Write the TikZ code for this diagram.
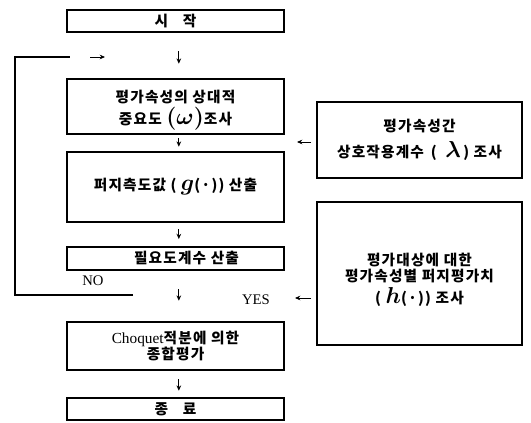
\documentclass[tikz,border=0pt]{standalone}
\usepackage{fontspec}
\usepackage{bm}
\setmainfont{Liberation Serif}
\newfontfamily\kr[LetterSpace=8]{Noto Sans CJK KR}
\usetikzlibrary{arrows.meta}
\begin{document}
\begin{tikzpicture}[x=0.75pt,y=-0.75pt,
  box/.style n args={2}{draw, line width=1.9pt, minimum width=#1*0.75pt, minimum height=#2*0.75pt, inner sep=0pt, align=center, font=\kr\bfseries\fontsize{11}{12}\selectfont},
  arr/.style={line width=0.7pt, -{Stealth[length=4pt,width=3.5pt]}},
  loop/.style={line width=0.8pt},
  lbl/.style={font=\fontsize{11}{12}\selectfont, inner sep=0pt}]
\useasboundingbox (0,0) rectangle (531,423);
\node[box={217}{55}] (b2) at (175.5,106.5) {\rule{0pt}{15pt}평가속성의 상대적\\[2pt]중요도 {\fontsize{17}{17}\selectfont$\bm{(\omega)}$}조사};
\node[box={217}{22}] (start) at (175.5,21) {시\quad 작};
\node[box={217}{70}] (b3) at (175.5,187) {퍼지측도값 ( {\fontsize{18}{18}\selectfont$\bm g$}(·)) 산출};
\node[box={217}{23}] (b4) at (175.5,258.5) {\hspace{1.5em}필요도계수 산출};
\node[box={217}{48}] (b5) at (175.5,346) {{\rmfamily\mdseries\fontsize{11.5}{11.5}\selectfont Choquet}적분에 의한\\[0pt]종합평가};
\node[box={217}{22}] (b6) at (175.5,409) {종\quad 료};
\node[box={205}{76}] (r1) at (419.5,140) {평가속성간\\[5pt]상호작용계수 \,(\; {\fontsize{16}{16}\selectfont$\bm\lambda$}\,) 조사};
\node[box={205}{143}] (r2) at (419.5,273.5) {\rule{0pt}{19pt}평가대상에 대한\\[0pt]평가속성별 퍼지평가치\\[2pt]( {\fontsize{19}{19}\selectfont$\bm h$}(·)) 조사};
\node[lbl] (no) at (93,281) {NO};
\node[lbl] (yes) at (256,300) {YES};
\coordinate (nl) at (133,295);
\coordinate (ll) at (15,295);
\coordinate (tl) at (15,57);
\coordinate (tr) at (70,57);
\coordinate (ra) at (90,57);
\coordinate (rb) at (105,57);
\coordinate (r2a) at (r2.west |- 0,298);
\coordinate (r2b) at (295,298);
\coordinate (r1a) at (r1.west |- 0,142);
\coordinate (r1b) at (297,142);
\draw[loop] (nl) -- (ll) -- (tl) -- (tr);
\draw[arr] (ra) -- (rb);
\draw[arr, shorten <=13.5pt, shorten >=10.5pt] ([xshift=2.5pt]start.south) -- ([xshift=2.5pt]b2.north);
\draw[arr, shorten <=2.2pt, shorten >=3pt] ([xshift=2.5pt]b2.south) -- ([xshift=2.5pt]b3.north);
\draw[arr, shorten <=4.5pt, shorten >=5pt] ([xshift=2.5pt]b3.south) -- ([xshift=2.5pt]b4.north);
\draw[arr, shorten <=13.5pt, shorten >=15pt] ([xshift=2.5pt]b4.south) -- ([xshift=2.5pt]b5.north);
\draw[arr, shorten <=6pt, shorten >=4.5pt] ([xshift=2.5pt]b5.south) -- ([xshift=2.5pt]b6.north);
\draw[arr, shorten <=3.5pt] (r1a) -- (r1b);
\draw[arr, shorten <=3.5pt] (r2a) -- (r2b);
\end{tikzpicture}
\end{document}
